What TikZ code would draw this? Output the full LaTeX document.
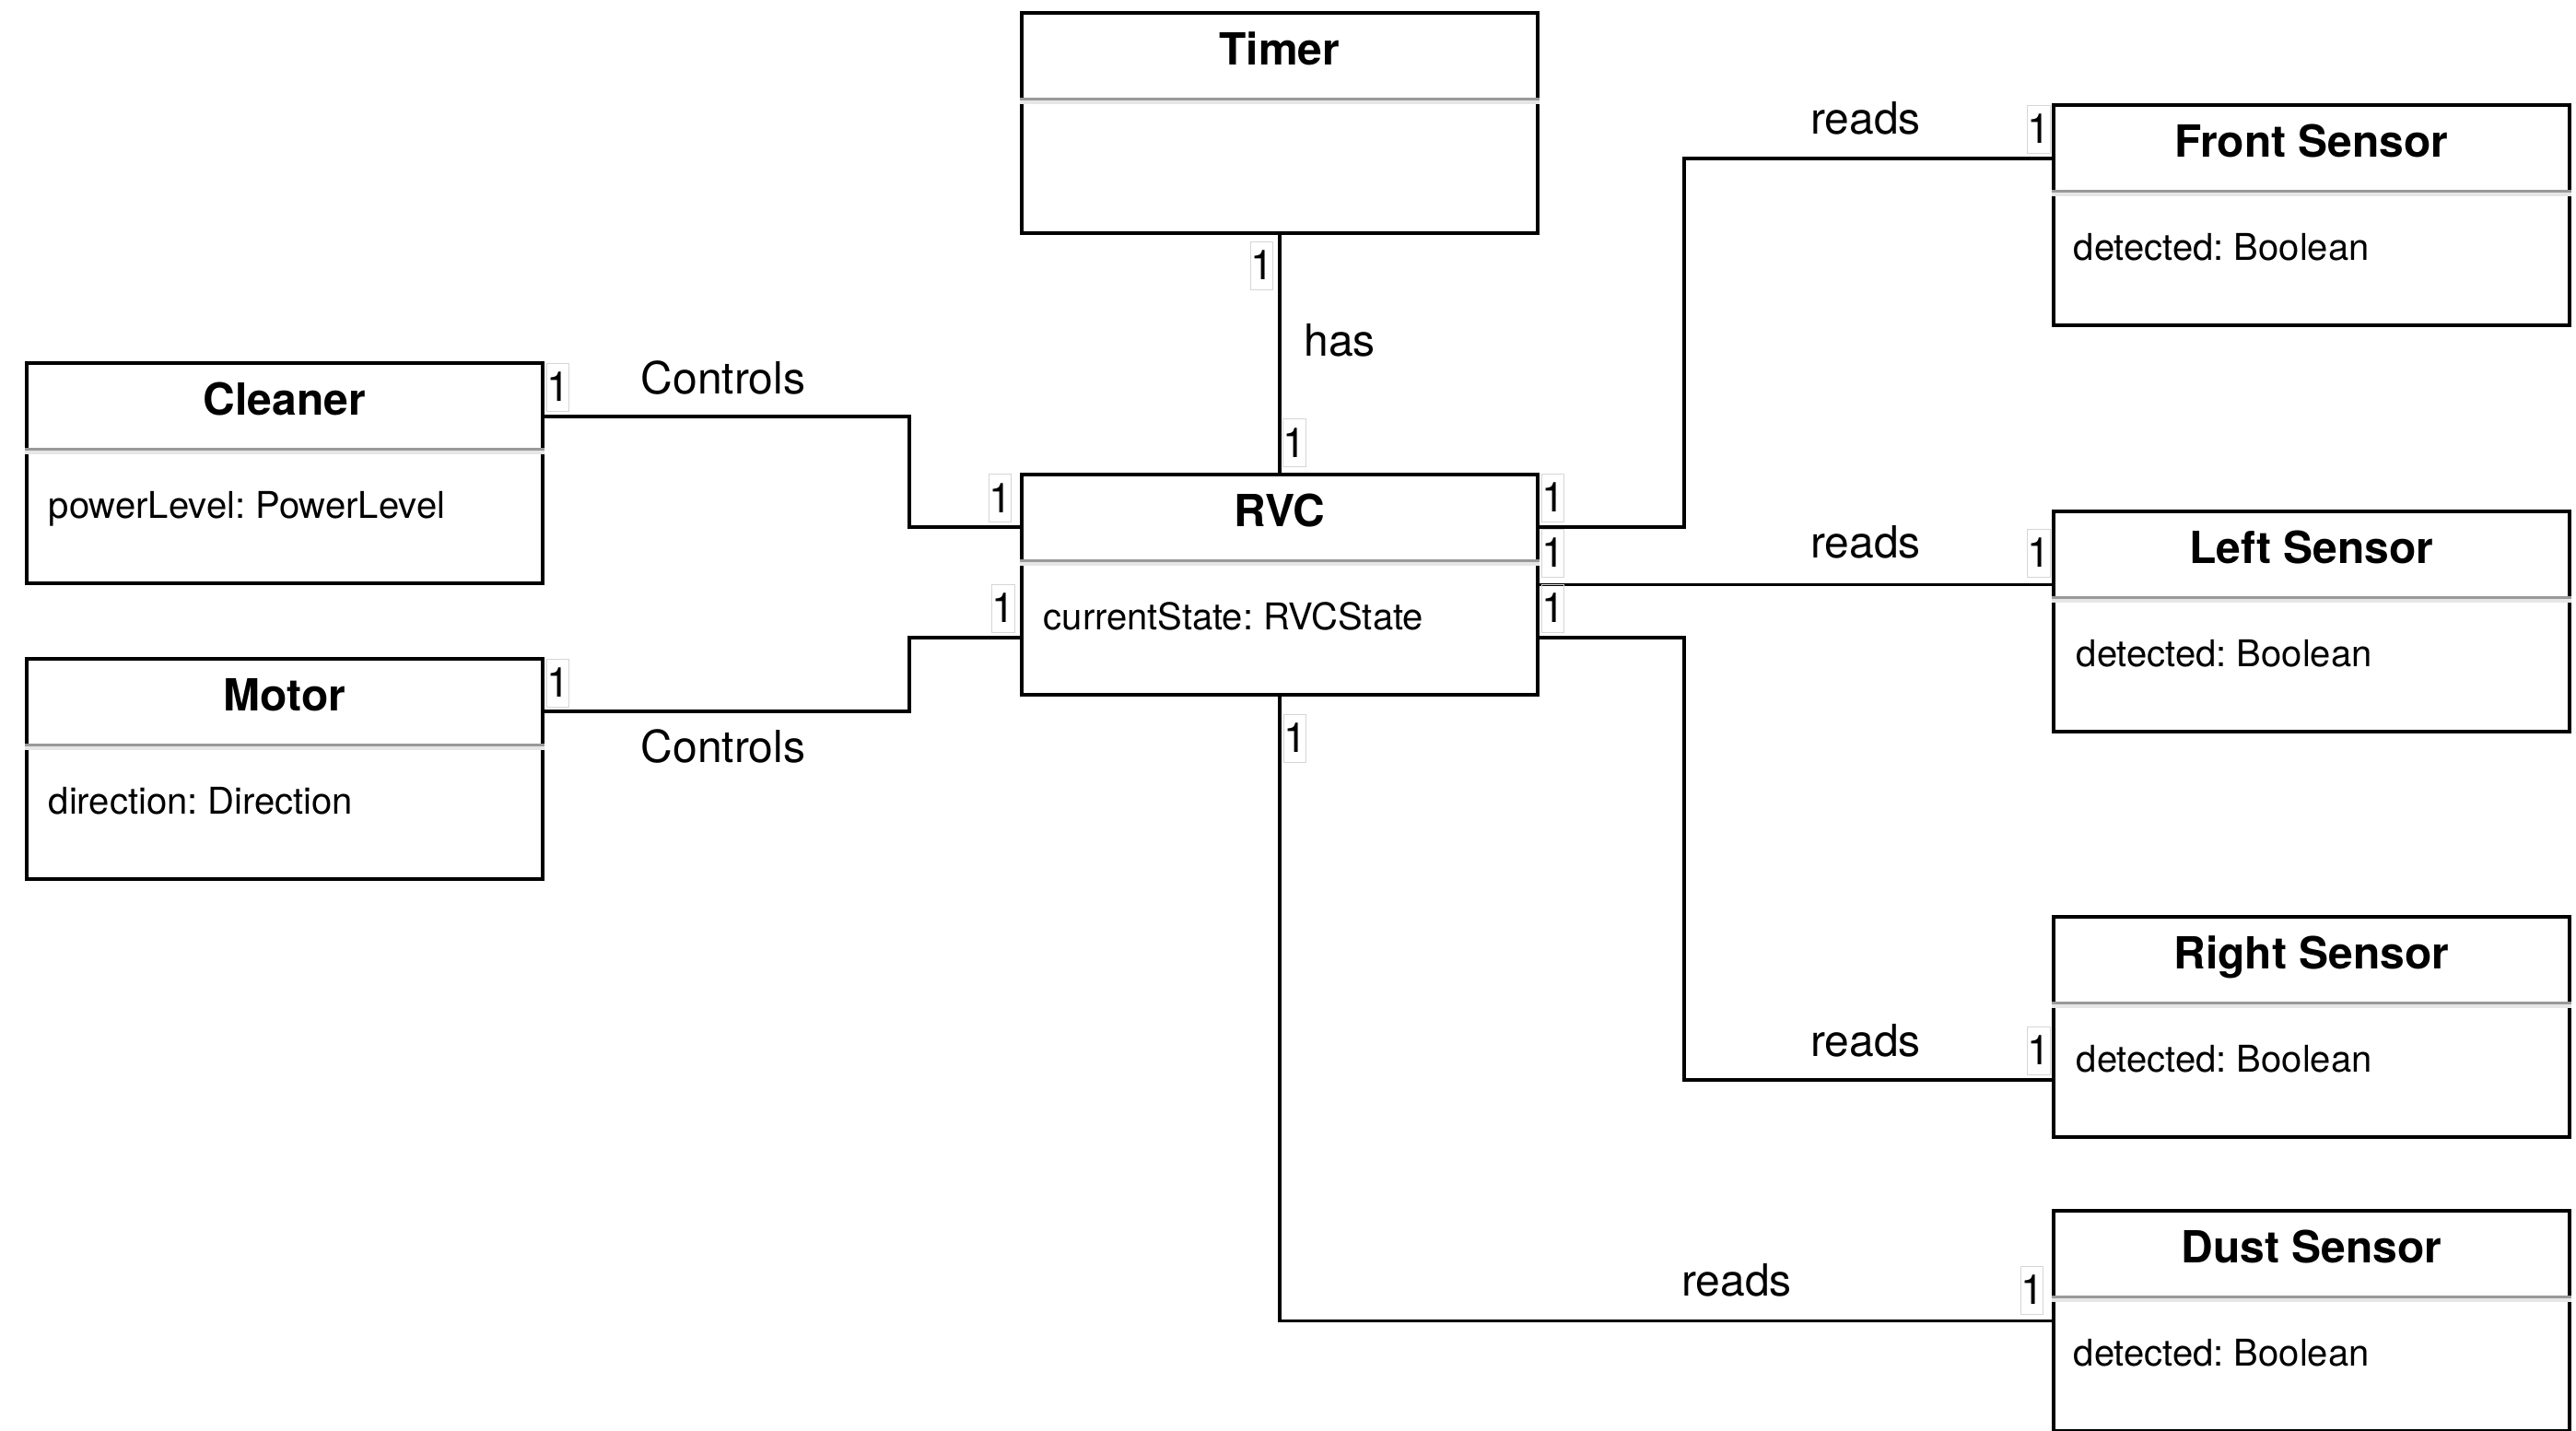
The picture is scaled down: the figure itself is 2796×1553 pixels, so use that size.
\documentclass[tikz,border=0pt]{standalone}
\usepackage{fontspec}
\setmainfont{TeX Gyre Heros}
\frenchspacing
\usetikzlibrary{calc}

\definecolor{sepdark}{HTML}{999999}
\definecolor{seplight}{HTML}{E6E6E6}
\definecolor{multframe}{HTML}{D6D6D6}

\tikzset{
  classbox/.style={draw=black, line width=0.9pt, fill=white,
    minimum width=140pt, minimum height=59.75pt, inner sep=0pt, anchor=north west},
  sepline/.style={draw=sepdark, line width=0.75pt},
  sepshade/.style={draw=seplight, line width=1pt},
  classtitle/.style={anchor=base, inner sep=0pt, font=\fontsize{12}{14}\selectfont\bfseries},
  classattr/.style={anchor=base west, inner sep=0pt, font=\fontsize{10}{12}\selectfont},
  assoc/.style={draw=black, line width=0.85pt},
  assoclabel/.style={anchor=base, inner sep=0pt, font=\fontsize{12}{14}\selectfont},
  mult/.style={draw=multframe, line width=0.25pt, inner sep=0pt,
    minimum width=6.2pt, minimum height=13pt, font=\fontsize{11.2}{12}\selectfont},
}

% class box with its name compartment and separator
\newcommand{\umlclass}[4]{%
  \node[classbox] (#1) at (#2,#3) {};
  \draw[sepshade] ($(#1.north west)+(0,98.5)$) -- ($(#1.north east)+(0,98.5)$);
  \draw[sepline] ($(#1.north west)+(0,95)$) -- ($(#1.north east)+(0,95)$);
  \node[classtitle] (#1title) at ($(#1.north)+(0,58)$) {#4};
}
% attribute line of a class
\newcommand{\umlattr}[3]{%
  \node[classattr] (#1attr) at ($(#1.north west)+(#2,170)$) {#3};
}

\begin{document}
\begin{tikzpicture}[x=0.25pt, y=-0.25pt]
\useasboundingbox (0,0) rectangle (2796,1553);

% classes
\umlclass{timer}{1107}{12}{Timer}
\umlclass{rvc}{1107}{513}{RVC}
\umlattr{rvc}{25}{currentState: RVCState}
\umlclass{cleaner}{27}{392}{Cleaner}
\umlattr{cleaner}{25}{powerLevel: PowerLevel}
\umlclass{motor}{27}{713}{Motor}
\umlattr{motor}{25}{direction: Direction}
\umlclass{frontsensor}{2227}{112}{Front Sensor}
\umlattr{frontsensor}{23}{detected: Boolean}
\umlclass{leftsensor}{2227}{553}{Left Sensor}
\umlattr{leftsensor}{26}{detected: Boolean}
\umlclass{rightsensor}{2227}{993}{Right Sensor}
\umlattr{rightsensor}{26}{detected: Boolean}
\umlclass{dustsensor}{2227}{1312}{Dust Sensor}
\umlattr{dustsensor}{23}{detected: Boolean}

% connection ports and bend columns
\coordinate (lbend) at (987,0);
\coordinate (rbend) at (1828,0);
\coordinate (cleanerP) at ($(cleaner.north east)+(0,60)$);
\coordinate (motorP) at ($(motor.north east)+(0,59)$);
\coordinate (rvcWa) at ($(rvc.north west)+(0,59)$);
\coordinate (rvcWb) at ($(rvc.north west)+(0,179)$);
\coordinate (rvcEa) at ($(rvc.north east)+(0,59)$);
\coordinate (rvcEb) at ($(rvc.north east)+(0,179)$);
\coordinate (frontP) at ($(frontsensor.north west)+(0,60)$);
\coordinate (rightP) at ($(rightsensor.north west)+(0,179)$);

% associations
\draw[assoc] (timer.south) -- (rvc.north);
\draw[assoc] (cleanerP) -- (cleanerP -| lbend) -- (rvcWa -| lbend) -- (rvcWa);
\draw[assoc] (motorP) -- (motorP -| lbend) -- (rvcWb -| lbend) -- (rvcWb);
\draw[assoc] (rvcEa) -- (rvcEa -| rbend) -- (frontP -| rbend) -- (frontP);
\draw[assoc] (rvc.east) -- (rvc.east -| leftsensor.west);
\draw[assoc] (rvcEb) -- (rvcEb -| rbend) -- (rightP -| rbend) -- (rightP);
\draw[assoc] (rvc.south) -- (rvc.south |- dustsensor.west) -- (dustsensor.west);

% association names
\node[assoclabel] (hasL) at (1454,386) {has};
\node[assoclabel] (ctrlA) at (785,427) {Controls};
\node[assoclabel] (ctrlB) at (785,827) {Controls};
\node[assoclabel] (readsF) at (2025,145) {reads};
\node[assoclabel] (readsL) at (2025,605) {reads};
\node[assoclabel] (readsR) at (2025,1146) {reads};
\node[assoclabel] (readsD) at (1885,1406) {reads};

% multiplicities
\node[mult] (mTimer) at (1369.5,288) {1};
\node[mult] (mRvcTop) at (1405,480.5) {1};
\node[mult] (mCleaner) at (605.5,420) {1};
\node[mult] (mRvcWa) at (1085.5,540.5) {1};
\node[mult] (mMotor) at (605.5,741) {1};
\node[mult] (mRvcWb) at (1089,660) {1};
\node[mult] (mRvcEa) at (1685.5,540) {1};
\node[mult] (mRvcEm) at (1685.5,600) {1};
\node[mult] (mRvcEb) at (1685.5,660) {1};
\node[mult] (mFront) at (2213,140) {1};
\node[mult] (mLeft) at (2213,600) {1};
\node[mult] (mRight) at (2213,1140) {1};
\node[mult] (mDust) at (2205.5,1400) {1};
\node[mult] (mRvcBot) at (1405.5,801) {1};
\end{tikzpicture}
\end{document}
